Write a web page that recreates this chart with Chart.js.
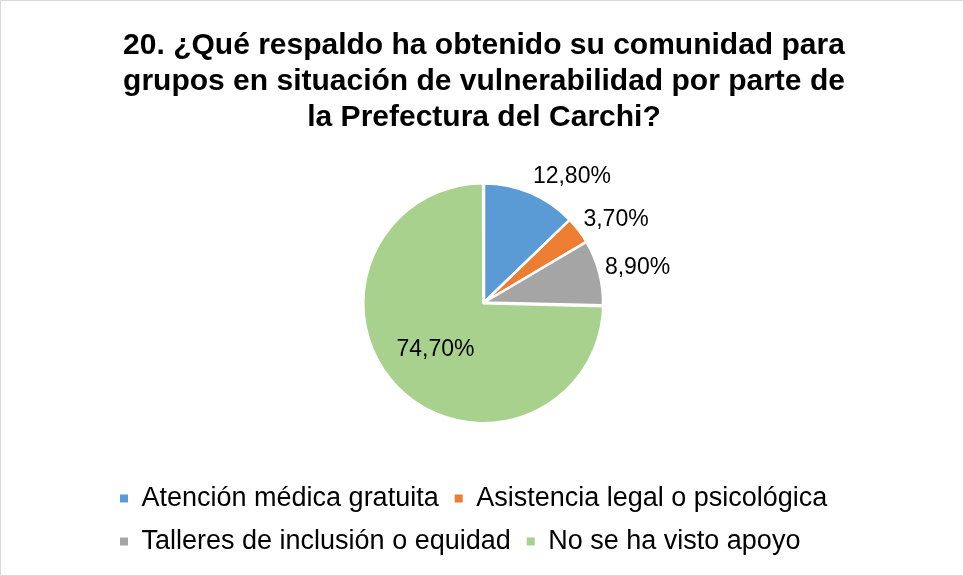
<!DOCTYPE html>
<html>
<head>
<meta charset="utf-8">
<title>Respaldo de la Prefectura del Carchi</title>
<script src="https://cdn.jsdelivr.net/npm/chart.js"></script>
<style>
  body { margin: 0; background: #fff; }
  #wrap { width: 964px; height: 576px; box-sizing: border-box; border: 1px solid #d9d9d9; }
</style>
</head>
<body>
<div id="wrap"><canvas id="pieChart" width="962" height="574"></canvas></div>
<script>
const TITLE = [
  '20. ¿Qué respaldo ha obtenido su comunidad para',
  'grupos en situación de vulnerabilidad por parte de',
  'la Prefectura del Carchi?'
];
const CATEGORIES = [
  'Atención médica gratuita',
  'Asistencia legal o psicológica',
  'Talleres de inclusión o equidad',
  'No se ha visto apoyo'
];
const PERCENTS = [12.8, 3.7, 8.9, 74.7];
const COLORS = ['#5B9BD5', '#ED7D31', '#A5A5A5', '#A9D18E'];

const FONT = '"Liberation Sans", Arial, sans-serif';

// "12,80%" style
function fmt(v) {
  return v.toFixed(2).replace('.', ',') + '%';
}

// data labels: big slice inside, small ones outside (like Excel best fit)
const sliceLabels = {
  id: 'sliceLabels',
  afterDatasetsDraw(chart) {
    const ctx = chart.ctx;
    const meta = chart.getDatasetMeta(0);
    ctx.save();
    ctx.font = '23px ' + FONT;
    ctx.fillStyle = '#000';
    ctx.textAlign = 'center';
    ctx.textBaseline = 'middle';
    meta.data.forEach((arc, i) => {
      const p = arc.getProps(['x', 'y', 'startAngle', 'endAngle', 'outerRadius'], true);
      const mid = (p.startAngle + p.endAngle) / 2;
      const cos = Math.cos(mid), sin = Math.sin(mid);
      const text = fmt(PERCENTS[i]);
      let lx, ly;
      if (p.endAngle - p.startAngle > Math.PI) {
        lx = p.x + cos * p.outerRadius * 0.57;
        ly = p.y + sin * p.outerRadius * 0.57;
      } else {
        const w = ctx.measureText(text).width;
        const d = p.outerRadius + 6;
        lx = p.x + cos * d + Math.sign(cos) * w / 2;
        ly = p.y + sin * d + sin * 12;
      }
      ctx.fillText(text, lx, ly);
    });
    ctx.restore();
  }
};

new Chart(document.getElementById('pieChart'), {
  type: 'pie',
  data: {
    labels: CATEGORIES,
    datasets: [{
      data: PERCENTS,
      backgroundColor: COLORS,
      borderColor: '#fff',
      borderWidth: 2.5,
      offset: [0, 0, 0, 4],
      radius: 119
    }]
  },
  options: {
    responsive: false,
    animation: false,
    layout: { padding: { top: 27, left: 103, right: 99, bottom: 10 } },
    plugins: {
      title: {
        display: true,
        text: TITLE,
        color: '#000',
        font: { family: FONT, size: 30, weight: 'bold', lineHeight: 1.2 },
        padding: { top: 0, bottom: 0 }
      },
      legend: {
        position: 'bottom',
        align: 'start',
        labels: {
          color: '#000',
          font: { family: FONT, size: 27 },
          boxWidth: 8,
          boxHeight: 8,
          padding: 16,
          generateLabels(chart) {
            const items = Chart.overrides.pie.plugins.legend.labels.generateLabels(chart);
            items.forEach(it => { it.lineWidth = 0; it.strokeStyle = it.fillStyle; });
            return items;
          }
        }
      },
      tooltip: { enabled: false }
    }
  },
  plugins: [sliceLabels]
});
</script>
</body>
</html>
